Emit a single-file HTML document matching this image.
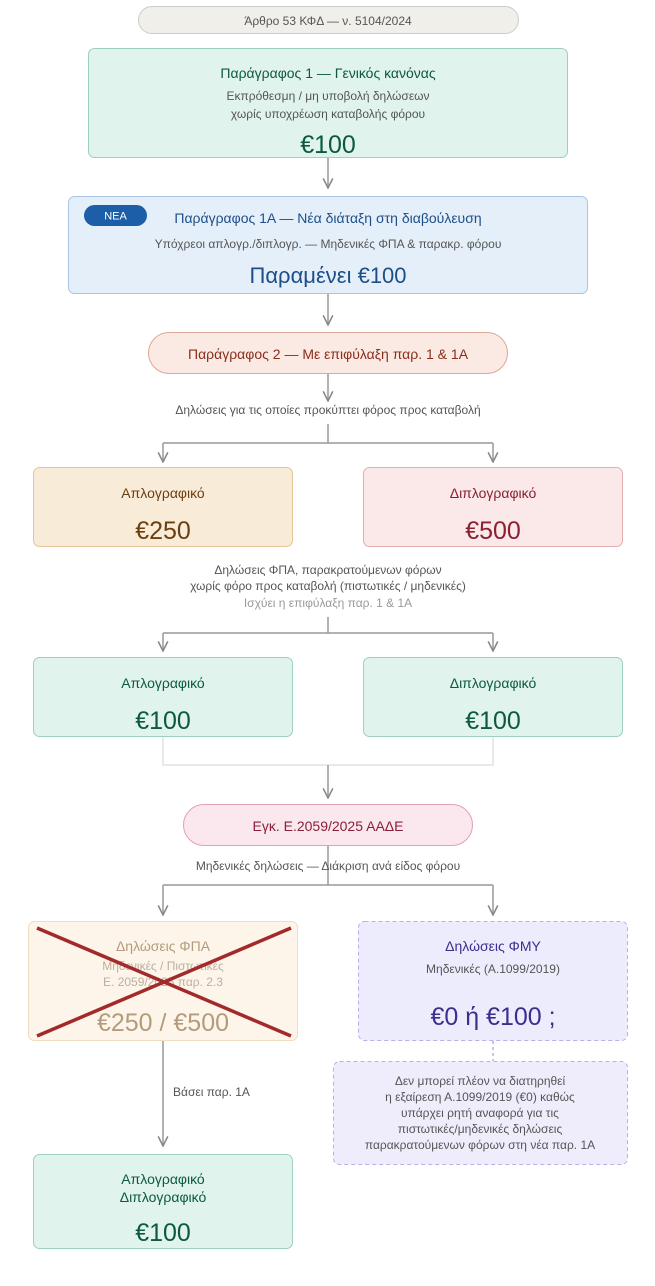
<!DOCTYPE html>
<html><head><meta charset="utf-8"><style>
html,body{margin:0;padding:0;background:#fff;width:655px;height:1286px;overflow:hidden}
svg{display:block}
text{font-family:"Liberation Sans","DejaVu Sans",sans-serif;text-anchor:middle}
</style></head><body>
<svg width="655" height="1286" viewBox="0 0 655 1286" xmlns="http://www.w3.org/2000/svg">
<defs>
<marker id="a" viewBox="0 0 10 10" refX="9" refY="5" markerWidth="8" markerHeight="8" orient="auto"><path d="M1,1 L9,5 L1,9" fill="none" stroke="#888" stroke-width="1.3"/></marker>
</defs>
<g stroke="#999" stroke-width="1.5" fill="none">
<line x1="328" y1="158" x2="328" y2="188" marker-end="url(#a)"/>
<line x1="328" y1="294" x2="328" y2="325" marker-end="url(#a)"/>
<line x1="328" y1="374" x2="328" y2="401" marker-end="url(#a)"/>
<path d="M328,424 V443 M163,443 H493"/>
<line x1="163" y1="443" x2="163" y2="462" marker-end="url(#a)"/>
<line x1="493" y1="443" x2="493" y2="462" marker-end="url(#a)"/>
<path d="M328,617 V633 M163,633 H493"/>
<line x1="163" y1="633" x2="163" y2="651" marker-end="url(#a)"/>
<line x1="493" y1="633" x2="493" y2="651" marker-end="url(#a)"/>
<path d="M163,737 V765 H493 V737" stroke="#e2e2e2"/>
<line x1="328" y1="765" x2="328" y2="798" marker-end="url(#a)"/>
<path d="M328,846 V885 M163,885 H493"/>
<line x1="163" y1="885" x2="163" y2="915" marker-end="url(#a)"/>
<line x1="493" y1="885" x2="493" y2="915" marker-end="url(#a)"/>
<line x1="163" y1="1040" x2="163" y2="1146" marker-end="url(#a)"/>
<line x1="493" y1="1041" x2="493" y2="1061" stroke="#b9aef0" stroke-dasharray="3,3"/>
</g>
<rect x="138.5" y="6.5" width="380" height="27" rx="13.5" fill="#f1efe9" stroke="#ccc"/>
<text x="328" y="25" font-size="12" fill="#555">Άρθρο 53 ΚΦΔ — ν. 5104/2024</text>

<rect x="88.5" y="48.5" width="479" height="109" rx="6" fill="#e0f3ec" stroke="#9fd0b9"/>
<text x="328" y="78" font-size="14" fill="#0b5a3f">Παράγραφος 1 — Γενικός κανόνας</text>
<text x="328" y="100" font-size="12" fill="#555">Εκπρόθεσμη / μη υποβολή δηλώσεων</text>
<text x="328" y="118" font-size="12" fill="#555">χωρίς υποχρέωση καταβολής φόρου</text>
<text x="328" y="153" font-size="25" fill="#0b5a3f">€100</text>

<rect x="68.5" y="196.5" width="519" height="97" rx="6" fill="#e5effa" stroke="#a9c4e4"/>
<rect x="84" y="205" width="63" height="21" rx="10.5" fill="#1c5ea8"/>
<text x="115.5" y="219.5" font-size="11" fill="#fff">ΝΕΑ</text>
<text x="328" y="223" font-size="14" fill="#1c4f8a">Παράγραφος 1Α — Νέα διάταξη στη διαβούλευση</text>
<text x="328" y="248" font-size="12" fill="#555">Υπόχρεοι απλογρ./διπλογρ. — Μηδενικές ΦΠΑ &amp; παρακρ. φόρου</text>
<text x="328" y="283" font-size="22" fill="#1c4f8a">Παραμένει €100</text>

<rect x="148.5" y="332.5" width="359" height="41" rx="20.5" fill="#fbe9e3" stroke="#dfa796"/>
<text x="328" y="359" font-size="14" fill="#8a2e1a">Παράγραφος 2 — Με επιφύλαξη παρ. 1 &amp; 1Α</text>
<text x="328" y="414" font-size="12" fill="#555">Δηλώσεις για τις οποίες προκύπτει φόρος προς καταβολή</text>

<rect x="33.5" y="467.5" width="259" height="79" rx="6" fill="#f8ebd8" stroke="#e2c598"/>
<text x="163" y="498" font-size="14" fill="#6b3f10">Απλογραφικό</text>
<text x="163" y="539" font-size="25" fill="#6b3f10">€250</text>
<rect x="363.5" y="467.5" width="259" height="79" rx="6" fill="#fbe9e9" stroke="#e4aeae"/>
<text x="493" y="498" font-size="14" fill="#8a2030">Διπλογραφικό</text>
<text x="493" y="539" font-size="25" fill="#8a2030">€500</text>

<text x="328" y="574" font-size="12" fill="#555">Δηλώσεις ΦΠΑ, παρακρατούμενων φόρων</text>
<text x="328" y="590" font-size="12" fill="#555">χωρίς φόρο προς καταβολή (πιστωτικές / μηδενικές)</text>
<text x="328" y="607" font-size="12" fill="#999">Ισχύει η επιφύλαξη παρ. 1 &amp; 1Α</text>

<rect x="33.5" y="657.5" width="259" height="79" rx="6" fill="#e0f3ec" stroke="#9fd0b9"/>
<text x="163" y="688" font-size="14" fill="#0b5a3f">Απλογραφικό</text>
<text x="163" y="729" font-size="25" fill="#0b5a3f">€100</text>
<rect x="363.5" y="657.5" width="259" height="79" rx="6" fill="#e0f3ec" stroke="#9fd0b9"/>
<text x="493" y="688" font-size="14" fill="#0b5a3f">Διπλογραφικό</text>
<text x="493" y="729" font-size="25" fill="#0b5a3f">€100</text>

<rect x="183.5" y="804.5" width="289" height="41" rx="20.5" fill="#fbe8ee" stroke="#e0a0b8"/>
<text x="328" y="831" font-size="14" fill="#8a1f3a">Εγκ. Ε.2059/2025 ΑΑΔΕ</text>
<text x="328" y="870" font-size="12" fill="#555">Μηδενικές δηλώσεις — Διάκριση ανά είδος φόρου</text>

<rect x="28.5" y="921.5" width="269" height="119" rx="6" fill="#fdf5ea" stroke="#f0dcc0"/>
<text x="163" y="951" font-size="14" fill="#b39c7c">Δηλώσεις ΦΠΑ</text>
<text x="163" y="970" font-size="12" fill="#bbb0a0">Μηδενικές / Πιστωτικές</text>
<text x="163" y="986" font-size="12" fill="#bbb0a0">Ε. 2059/2025 παρ. 2.3</text>
<text x="163" y="1031" font-size="25" fill="#b39c7c">€250 / €500</text>
<path d="M37,928 L291,1036 M291,928 L37,1036" stroke="#a32a2a" stroke-width="3.5"/>

<rect x="358.5" y="921.5" width="269" height="119" rx="6" fill="#edecfc" stroke="#b9aef0" stroke-dasharray="4,3"/>
<text x="493" y="951" font-size="14" fill="#3a2e8f">Δηλώσεις ΦΜΥ</text>
<text x="493" y="973" font-size="12" fill="#555">Μηδενικές (Α.1099/2019)</text>
<text x="493" y="1025" font-size="25" fill="#3a2e8f">€0 ή €100 ;</text>

<rect x="333.5" y="1061.5" width="294" height="103" rx="6" fill="#efedfc" stroke="#b9aef0" stroke-dasharray="4,3"/>
<text x="480" y="1085" font-size="12" fill="#555">Δεν μπορεί πλέον να διατηρηθεί</text>
<text x="480" y="1101" font-size="12" fill="#555">η εξαίρεση Α.1099/2019 (€0) καθώς</text>
<text x="480" y="1117" font-size="12" fill="#555">υπάρχει ρητή αναφορά για τις</text>
<text x="480" y="1133" font-size="12" fill="#555">πιστωτικές/μηδενικές δηλώσεις</text>
<text x="480" y="1149" font-size="12" fill="#555">παρακρατούμενων φόρων στη νέα παρ. 1Α</text>

<text x="173" y="1096" font-size="12" fill="#555" style="text-anchor:start">Βάσει παρ. 1Α</text>

<rect x="33.5" y="1154.5" width="259" height="94" rx="6" fill="#e0f3ec" stroke="#9fd0b9"/>
<text x="163" y="1184" font-size="14" fill="#0b5a3f">Απλογραφικό</text>
<text x="163" y="1202" font-size="14" fill="#0b5a3f">Διπλογραφικό</text>
<text x="163" y="1241" font-size="25" fill="#0b5a3f">€100</text>
</svg>
</body></html>
